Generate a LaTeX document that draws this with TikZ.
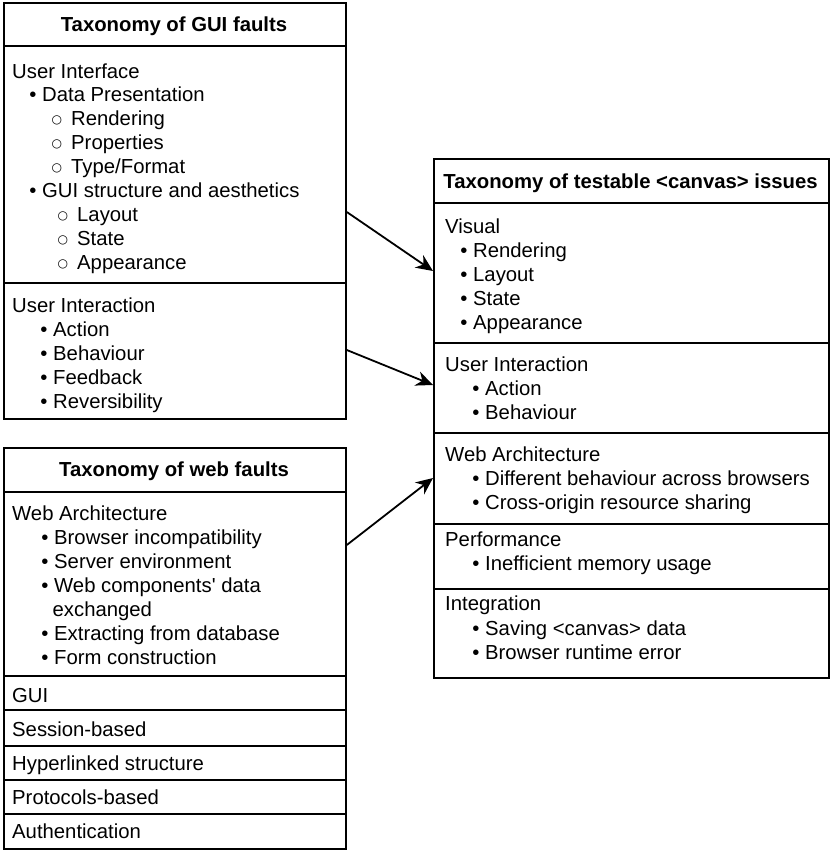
\documentclass[tikz,border=0pt]{standalone}
\usepackage{fontspec}
\setmainfont{Liberation Sans}
\newfontfamily\djv{DejaVu Sans}
\usetikzlibrary{arrows.meta}
\newcommand{\bu}{\makebox[12.75pt][l]{•}}
\newcommand{\ci}{\makebox[20pt][l]{\hspace{0.5pt}\raisebox{2.2pt}{\djv\fontsize{12}{12}\selectfont ○}}}
\begin{document}
\begin{tikzpicture}[x=1pt,y=-1pt,
  sec/.style={draw, line width=1.8pt, anchor=north west, inner sep=0pt, minimum width=#1},
  sec/.default=342,
  txt/.style={anchor=base west, inner sep=0pt, font=\fontsize{20.3}{24}\selectfont},
  ttl/.style={anchor=base, inner sep=0pt, font=\fontsize{20.3}{24}\selectfont\bfseries},
  arr/.style={line width=1.8pt, -{Stealth[length=17pt,width=15pt,inset=5.5pt]}}]
\useasboundingbox (0,0) rectangle (830,859);
% ---- left top box: GUI faults
\node[sec, minimum height=43] (gT) at (3,2) {};
\node[sec, minimum height=237] (gS1) at (3,45) {};
\node[sec, minimum height=136] (gS2) at (3,282) {};
\node[ttl] (gTt) at (174,32) {Taxonomy of GUI faults};
\node[txt] (gi1) at (12,78) {User Interface};
\node[txt] (gi2) at (29.25,101.5) {\bu Data Presentation};
\node[txt] (gi3) at (51,125.5) {\ci Rendering};
\node[txt] (gi4) at (51,149.5) {\ci Properties};
\node[txt] (gi5) at (51,173.5) {\ci Type/Format};
\node[txt] (gi6) at (29.25,197.5) {\bu GUI structure and aesthetics};
\node[txt] (gi7) at (57,221.5) {\ci Layout};
\node[txt] (gi8) at (57,245.5) {\ci State};
\node[txt] (gi9) at (57,269.5) {\ci Appearance};
\node[txt] (gu1) at (12,312) {User Interaction};
\node[txt] (gu2) at (40.25,336) {\bu Action};
\node[txt] (gu3) at (40.25,360) {\bu Behaviour};
\node[txt] (gu4) at (40.25,384) {\bu Feedback};
\node[txt] (gu5) at (40.25,408) {\bu Reversibility};
% ---- left bottom box: web faults
\node[sec, minimum height=44] (wT) at (3,447) {};
\node[sec, minimum height=184] (wS1) at (3,491) {};
\node[sec, minimum height=34] (wS2) at (3,675) {};
\node[sec, minimum height=36] (wS3) at (3,709) {};
\node[sec, minimum height=34] (wS4) at (3,745) {};
\node[sec, minimum height=34] (wS5) at (3,779) {};
\node[sec, minimum height=35] (wS6) at (3,813) {};
\node[ttl] (wTt) at (174,476) {Taxonomy of web faults};
\node[txt] (wa1) at (12,520.5) {Web Architecture};
\node[txt] (wa2) at (41.25,544.5) {\bu Browser incompatibility};
\node[txt] (wa3) at (41.25,568.5) {\bu Server environment};
\node[txt] (wa4) at (41.25,592.5) {\bu Web components\textquotesingle{} data};
\node[txt] (wa5) at (52.5,616.5) {exchanged};
\node[txt] (wa6) at (41.25,640.5) {\bu Extracting from database};
\node[txt] (wa7) at (41.25,664.5) {\bu Form construction};
\node[txt] (wr1) at (12,702) {GUI};
\node[txt] (wr2) at (12,736) {Session-based};
\node[txt] (wr3) at (12,770.5) {Hyperlinked structure};
\node[txt] (wr4) at (12,804.5) {Protocols-based};
\node[txt] (wr5) at (12,838.5) {Authentication};
% ---- right box: canvas issues
\node[sec=395, minimum height=44] (cT) at (433,158) {};
\node[sec=395, minimum height=140] (cS1) at (433,202) {};
\node[sec=395, minimum height=90] (cS2) at (433,342) {};
\node[sec=395, minimum height=91] (cS3) at (433,432) {};
\node[sec=395, minimum height=65] (cS4) at (433,523) {};
\node[sec=395, minimum height=89] (cS5) at (433,588) {};
\node[ttl] (cTt) at (630.5,188) {Taxonomy of testable <canvas> issues};
\node[txt] (v1) at (445,233) {Visual};
\node[txt] (v2) at (460.25,257) {\bu Rendering};
\node[txt] (v3) at (460.25,281) {\bu Layout};
\node[txt] (v4) at (460.25,305) {\bu State};
\node[txt] (v5) at (460.25,329) {\bu Appearance};
\node[txt] (ui1) at (445,371.5) {User Interaction};
\node[txt] (ui2) at (472.25,395) {\bu Action};
\node[txt] (ui3) at (472.25,419) {\bu Behaviour};
\node[txt] (wb1) at (445,461) {Web Architecture};
\node[txt] (wb2) at (472.25,485) {\bu Different behaviour across browsers};
\node[txt] (wb3) at (472.25,509) {\bu Cross-origin resource sharing};
\node[txt] (pf1) at (445,546) {Performance};
\node[txt] (pf2) at (472.25,570.5) {\bu Inefficient memory usage};
\node[txt] (ig1) at (445,610.5) {Integration};
\node[txt] (ig2) at (472.25,635) {\bu Saving <canvas> data};
\node[txt] (ig3) at (472.25,659) {\bu Browser runtime error};
% ---- connectors
\coordinate (a1s) at (gS1.east |- 0,212);
\coordinate (a1e) at (cS1.west |- 0,271);
\coordinate (a2s) at (gS2.east |- 0,350);
\coordinate (a2e) at (cS2.west |- 0,385);
\coordinate (a3s) at (wS1.east |- 0,545);
\coordinate (a3e) at (cS3.west |- 0,478);
\draw[arr] (a1s) -- (a1e);
\draw[arr] (a2s) -- (a2e);
\draw[arr] (a3s) -- (a3e);
\end{tikzpicture}
\end{document}
